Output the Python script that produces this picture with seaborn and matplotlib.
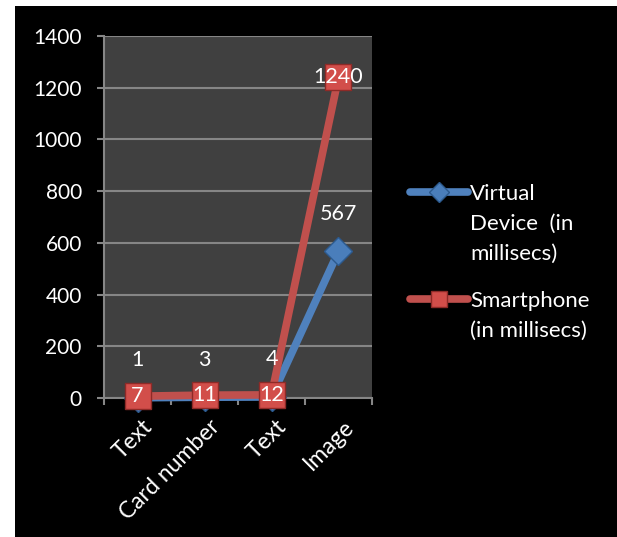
import matplotlib
matplotlib.use("Agg")
import matplotlib.pyplot as plt
from matplotlib.patches import Rectangle
from matplotlib.lines import Line2D
import matplotlib.transforms as mtrans
import seaborn as sns
import pandas as pd
import numpy as np

categories = ["Text", "Card number", "Text", "Image"]
virtual_device = [1, 3, 4, 567]
smartphone = [7, 11, 12, 1240]
series_names = ["Virtual\nDevice  (in\nmillisecs)", "Smartphone\n(in millisecs)"]
y_ticks = [0, 200, 400, 600, 800, 1000, 1200, 1400]

sns.set_style("dark")
plt.rcParams['font.family'] = ['Lato', 'DejaVu Sans']

BLUE = "#4F81BD"
RED = "#C0504D"
GRID = "#868686"

fig = plt.figure(figsize=(6.17, 5.37), dpi=100, facecolor="white")
fig.patches.append(Rectangle((15 / 617, 0), 1 - 15 / 617, 1 - 6 / 537,
                             transform=fig.transFigure, facecolor="black",
                             edgecolor="none", zorder=-10))

ax = fig.add_axes([104 / 617, 1 - 398 / 537, (372 - 104) / 617, (398 - 36) / 537])
ax.set_facecolor("#404040")

x = np.arange(len(categories))
df_v = pd.DataFrame({"x": x, "y": virtual_device})
df_s = pd.DataFrame({"x": x, "y": smartphone})

sns.lineplot(data=df_v, x="x", y="y", ax=ax, color=BLUE, linewidth=5.5,
             marker="D", markersize=14, markerfacecolor="#4A7EBB",
             markeredgecolor="#2C5A8E", markeredgewidth=1, clip_on=False, zorder=3)
sns.lineplot(data=df_s, x="x", y="y", ax=ax, color=RED, linewidth=5.5,
             marker="s", markersize=19, markerfacecolor="#D24E4A",
             markeredgecolor="#8E2A27", markeredgewidth=1, clip_on=False, zorder=4)

for xi, v in zip(x, virtual_device):
    ax.annotate(str(v), (xi, v), xytext=(0, 27), textcoords="offset points",
                ha="center", va="center", color="white", fontsize=15.5, zorder=6,
                annotation_clip=False)
for xi, v in zip(x, smartphone):
    ax.annotate(str(v), (xi, v), xytext=(0, 0), textcoords="offset points",
                ha="center", va="center", color="white", fontsize=15.5, zorder=6,
                annotation_clip=False)

ax.set_xlim(-0.5, len(categories) - 0.5)
ax.set_ylim(0, 1400)
ax.set_yticks(y_ticks)
ax.set_yticklabels([str(t) for t in y_ticks])
ax.set_xticks(np.arange(len(categories) + 1) - 0.5)
ax.set_xticklabels([])
ax.set_xticks(x, categories, minor=True)
ax.set_xlabel("")
ax.set_ylabel("")

ax.grid(axis="y", color=GRID, linewidth=1.5, zorder=1)
ax.grid(axis="x", visible=False)
ax.set_axisbelow(True)
for s in ["top", "right"]:
    ax.spines[s].set_visible(False)
for s in ["left", "bottom"]:
    ax.spines[s].set_visible(True)
    ax.spines[s].set_color(GRID)
    ax.spines[s].set_linewidth(1.5)

ax.tick_params(axis="y", which="major", length=5, width=1.5, color=GRID,
               direction="out", left=True, labelcolor="white", labelsize=15, pad=11)
ax.tick_params(axis="x", which="major", length=5, width=1.5, color=GRID,
               direction="out", bottom=True)
ax.tick_params(axis="x", which="minor", length=0, labelcolor="white",
               labelsize=16.5, pad=13)
shift = mtrans.ScaledTranslation(3 / 72, 0, fig.dpi_scale_trans)
for lab in ax.get_xticklabels(minor=True):
    lab.set_rotation(45)
    lab.set_ha("right")
    lab.set_va("top")
    lab.set_rotation_mode("anchor")
    lab.set_transform(lab.get_transform() + shift)

handles = [
    Line2D([0], [0], color=BLUE, linewidth=5.5, marker="D", markersize=10,
           markerfacecolor="#4A7EBB", markeredgecolor="#2C5A8E", solid_capstyle="round"),
    Line2D([0], [0], color=RED, linewidth=5.5, marker="s", markersize=12,
           markerfacecolor="#D24E4A", markeredgecolor="#8E2A27", solid_capstyle="round"),
]
leg = fig.legend(handles, series_names, loc="upper left",
                 bbox_to_anchor=(390 / 617, 1 - 164 / 537), frameon=False,
                 fontsize=16, labelcolor="white", handlelength=2.6,
                 handletextpad=0.1, labelspacing=1.2)
for t in leg.get_texts():
    t.set_linespacing(1.63)
for col in leg._legend_handle_box.get_children():
    for hp in col.get_children():
        hp.align = "top"

fig.savefig("out.png", dpi=100, facecolor=fig.get_facecolor())
